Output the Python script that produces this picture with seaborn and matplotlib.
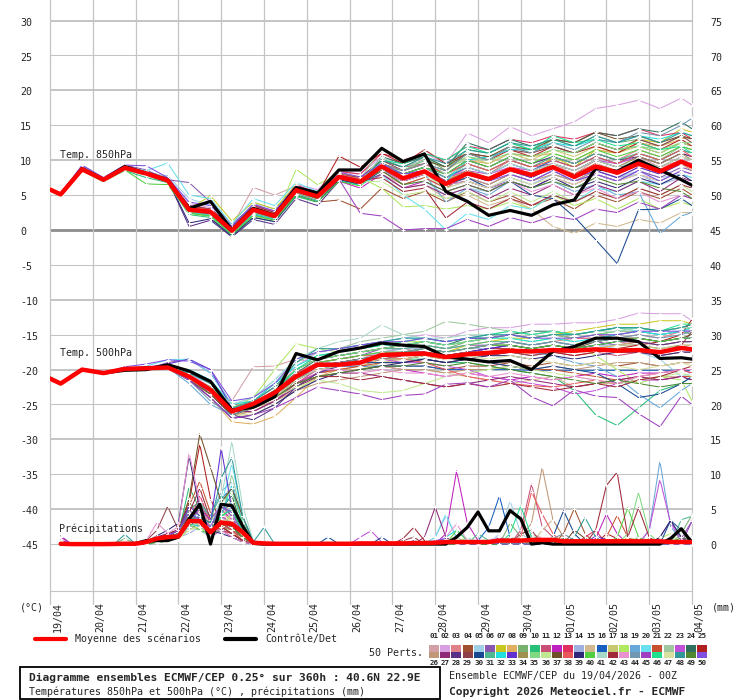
import pandas as pd
import seaborn as sns
import matplotlib.pyplot as plt
from matplotlib.lines import Line2D
from matplotlib.patches import Rectangle

sns.set_style("white")
plt.rcParams['font.family'] = ['DejaVu Sans Mono', 'DejaVu Sans']

# time steps (hours from 19/04 00Z)
HOURS_T = [0, 6] + list(range(18, 360, 12)) + [360]
HOURS_P = list(range(6, 361, 6))
DATES = ['19/04', '20/04', '21/04', '22/04', '23/04', '24/04', '25/04', '26/04',
         '27/04', '28/04', '29/04', '30/04', '01/05', '02/05', '03/05', '04/05']
PRECIP_ZERO = -45  # 0 mm sits on -45 of the left scale

MEAN_850 = [5.8, 5.1, 8.7, 7.2, 8.9, 8.1, 7.1, 2.9, 2.6, -0.1, 2.9, 2.0, 5.7, 4.8, 7.6, 6.9,
            9.1, 7.4, 8.4, 6.6, 8.1, 7.3, 8.7, 7.9, 9.0, 7.6, 9.1, 8.2, 9.5, 8.4, 9.8, 9.1]
CTRL_850 = [5.8, 5.1, 8.8, 7.2, 9.1, 8.1, 7.2, 3.1, 4.1, 0.0, 3.1, 2.1, 6.1, 5.3, 8.6, 8.6,
            11.7, 9.8, 10.9, 5.5, 4.1, 2.1, 2.8, 2.1, 3.6, 4.3, 8.8, 8.4, 10.0, 8.6, 7.2, 6.4]
MEAN_500 = [-21.3, -22.0, -20.0, -20.5, -19.9, -19.8, -19.7, -21.0, -22.9, -26.0, -24.9, -23.3,
            -21.0, -19.3, -19.3, -19.0, -17.9, -17.8, -17.7, -18.2, -17.8, -17.6, -17.3, -17.4,
            -17.2, -17.3, -17.1, -17.3, -17.2, -17.5, -16.9, -17.1]
CTRL_500 = [-21.2, -22.0, -20.0, -20.5, -20.1, -20.0, -19.3, -20.2, -21.7, -25.8, -25.4, -23.9,
            -17.7, -18.6, -17.4, -16.9, -16.2, -16.5, -16.7, -18.2, -18.5, -18.9, -18.7, -20.0,
            -17.4, -16.7, -15.5, -15.5, -16.0, -18.4, -18.3, -18.5]
MEAN_PR = [0.05, 0, 0, 0, 0, 0.02, 0.05, 0.05, 0.3, 0.8,
           1.0, 1.1, 3.3, 3.3, 1.7, 3.1, 2.9, 1.7, 0.2, 0.1,
           0.05, 0.05, 0.05, 0.05, 0.05, 0.05, 0.05, 0.05, 0.1, 0.1,
           0.1, 0.1, 0.1, 0.15, 0.15, 0.2, 0.3, 0.3, 0.3, 0.3,
           0.3, 0.5, 0.5, 0.5, 0.6, 0.6, 0.6, 0.4, 0.4, 0.4,
           0.4, 0.4, 0.4, 0.4, 0.4, 0.4, 0.4, 0.3, 0.3, 0.3]
CTRL_PR = [0, 0, 0, 0, 0, 0, 0, 0.1, 0.5, 0.5,
           0.5, 1.0, 3.6, 5.7, 0.0, 5.7, 5.5, 2.6, 0.1, 0,
           0, 0, 0, 0, 0, 0, 0, 0, 0, 0,
           0, 0, 0, 0, 0, 0, 0, 1.0, 2.4, 4.6,
           1.9, 1.9, 4.8, 3.6, 0, 0.2, 0, 0, 0, 0,
           0, 0, 0, 0, 0, 0, 0, 0.8, 2.2, 0.2]

MEMBER_COLORS = ['#d4a0a8', '#d8a0e0', '#e08088', '#a05030', '#a0d0e8', '#8858b0', '#c8c820', '#e0b060',
                 '#78b070', '#28c078', '#c85078', '#c020c0', '#e03060', '#a0b0e0', '#d0b890', '#1860c0',
                 '#c8c870', '#b0e860', '#68a8d8', '#68e0f0', '#c85030', '#a0c8a0', '#c050d8', '#307060',
                 '#b02020', '#c09878', '#902878', '#583088', '#904048', '#184890', '#50b890', '#20e0e0',
                 '#6030d0', '#a09050', '#80d880', '#c0e890', '#705028', '#e85858', '#302878', '#50d040',
                 '#a8d8c8', '#a02838', '#e890d0', '#7098b0', '#a040c0', '#20e090', '#d8e0a0', '#309898',
                 '#508830', '#8050e0']
MEMBER_IDS = ['%02d' % (i + 1) for i in range(50)]

T850_MEMBERS = [
    [5.9, 5.2, 8.7, 7.3, 9.0, 8.0, 7.3, 3.5, 3.0, 0.5, 6.1, 5.0, 6.3, 5.5, 7.0, 6.5, 8.0, 6.5, 7.5, 6.0, 8.5, 7.0, 9.0, 8.0, 9.5, 8.0, 10.0, 9.0, 10.5, 9.0, 10.0, 9.5],
    [5.7, 5.0, 8.9, 7.1, 9.2, 8.3, 7.4, 3.8, 3.2, 0.3, 3.5, 2.8, 6.5, 5.8, 8.5, 8.0, 10.5, 9.5, 11.0, 9.5, 13.9, 12.5, 14.8, 13.5, 14.5, 15.5, 17.4, 17.9, 18.6, 17.4, 18.9, 17.9],
    [5.8, 5.1, 8.5, 7.0, 8.7, 7.8, 6.8, 2.5, 2.0, -0.5, 2.0, 1.5, 5.0, 4.0, 7.5, 7.0, 9.5, 8.0, 9.0, 7.0, 9.0, 8.0, 10.0, 9.0, 10.5, 9.5, 11.0, 10.0, 11.5, 10.5, 12.0, 11.5],
    [5.9, 5.3, 9.0, 7.4, 9.1, 8.4, 7.5, 3.0, 2.5, 0.0, 3.0, 2.0, 5.5, 4.0, 4.3, 3.0, 6.0, 4.5, 5.5, 4.0, 5.5, 4.0, 5.0, 3.5, 4.5, 3.0, 5.0, 4.0, 5.5, 4.5, 6.0, 5.0],
    [5.6, 5.0, 8.6, 7.1, 8.8, 8.0, 7.8, 4.5, 3.5, 0.5, 3.8, 3.0, 6.0, 5.0, 8.0, 7.5, 9.0, 6.5, 7.0, 5.0, 6.0, 5.5, 7.5, 6.5, 8.0, 7.0, 8.5, 7.5, 8.5, 7.5, 8.0, 7.5],
    [5.9, 5.2, 9.2, 7.5, 9.3, 8.6, 7.2, 6.8, 4.0, 0.8, 3.5, 2.5, 6.2, 5.5, 8.0, 7.0, 8.5, 7.0, 8.0, 6.5, 7.5, 6.5, 8.0, 7.0, 8.5, 7.0, 8.0, 7.0, 8.5, 7.5, 9.0, 8.5],
    [5.8, 5.1, 8.7, 7.2, 8.9, 8.0, 7.0, 3.0, 4.9, 1.3, 4.0, 3.0, 6.5, 5.0, 7.5, 7.0, 9.0, 7.5, 8.5, 7.0, 8.5, 7.0, 9.0, 8.0, 10.5, 9.0, 11.5, 11.0, 13.0, 12.5, 14.5, 14.0],
    [5.7, 5.0, 8.6, 7.1, 8.8, 8.0, 7.0, 2.8, 2.4, -0.3, 2.5, 1.8, 5.4, 4.5, 7.2, 6.5, 8.5, 7.0, 8.0, 6.5, 10.0, 9.5, 11.0, 10.5, 11.0, 10.0, 11.5, 11.0, 12.5, 12.0, 13.0, 13.5],
    [5.8, 5.1, 8.8, 7.0, 8.7, 7.9, 7.0, 2.7, 2.4, -0.5, 2.6, 1.7, 5.6, 4.6, 7.8, 7.5, 10.0, 9.0, 10.5, 8.5, 11.0, 10.0, 12.0, 11.0, 13.0, 12.0, 13.5, 12.5, 13.0, 12.0, 13.5, 13.0],
    [5.7, 5.0, 8.7, 7.1, 8.5, 7.5, 6.8, 2.2, 1.8, -1.0, 1.8, 1.2, 4.8, 4.0, 7.0, 6.5, 9.5, 8.5, 10.0, 9.0, 11.5, 11.0, 12.5, 11.5, 12.0, 11.0, 12.5, 11.5, 12.0, 11.0, 12.5, 12.0],
    [5.9, 5.2, 8.8, 7.3, 9.0, 8.2, 7.2, 3.2, 2.8, 0.2, 3.2, 2.2, 6.0, 5.2, 8.2, 7.5, 10.0, 9.0, 9.5, 8.0, 9.5, 8.5, 10.0, 9.0, 9.5, 8.5, 10.0, 9.0, 9.5, 8.5, 10.0, 9.5],
    [5.8, 5.1, 8.9, 7.4, 9.2, 8.3, 7.3, 2.6, 2.2, -0.4, 2.4, 1.6, 5.2, 4.2, 7.0, 6.0, 8.0, 6.0, 7.0, 5.5, 6.5, 5.5, 7.0, 6.0, 7.5, 6.5, 8.0, 7.0, 8.0, 7.0, 8.5, 8.0],
    [5.9, 5.2, 8.8, 7.2, 8.9, 8.1, 7.1, 3.4, 3.0, 0.4, 3.6, 2.6, 6.4, 5.4, 8.4, 8.0, 11.0, 10.0, 11.0, 10.0, 12.0, 11.5, 13.0, 12.5, 13.5, 13.0, 14.0, 13.5, 14.5, 13.5, 14.0, 13.0],
    [5.6, 4.9, 8.6, 7.0, 8.8, 8.0, 7.1, 2.9, 2.5, -0.2, 2.8, 1.9, 5.6, 4.7, 7.5, 6.8, 9.0, 7.0, 8.0, 6.0, 7.0, 6.0, 7.5, 6.5, 8.0, 7.0, 8.5, 7.5, 8.0, 6.5, 7.5, 7.0],
    [5.8, 5.1, 8.7, 7.2, 8.9, 8.0, 7.0, 3.0, 2.6, 0.0, 3.0, 2.0, 5.8, 4.8, 7.4, 6.6, 8.0, 6.0, 6.5, 4.5, 5.0, 3.5, 4.5, 3.0, 0.5, -0.5, 1.0, 0.5, 1.5, 1.0, 2.5, 2.5],
    [5.7, 5.0, 8.8, 7.2, 8.9, 8.1, 7.1, 2.5, 2.0, -0.6, 2.2, 1.5, 5.0, 4.2, 7.0, 6.5, 9.0, 8.0, 9.0, 7.5, 9.0, 8.0, 9.5, 8.5, 10.0, 9.0, 10.5, 9.5, 11.0, 10.0, 11.5, 11.0],
    [5.8, 5.1, 8.6, 7.1, 8.8, 8.0, 7.0, 3.1, 2.7, 0.1, 3.1, 2.1, 5.9, 4.9, 7.7, 7.0, 9.5, 8.5, 9.5, 8.5, 10.5, 9.5, 11.0, 10.0, 11.5, 10.5, 12.0, 11.0, 12.0, 11.0, 12.5, 12.0],
    [5.7, 5.0, 8.6, 7.1, 8.8, 8.0, 7.1, 2.4, 2.0, -0.7, 2.0, 1.4, 8.7, 6.5, 8.0, 7.5, 6.0, 3.3, 3.5, 3.0, 3.5, 3.0, 4.0, 3.0, 5.0, 3.5, 4.5, 3.0, 4.5, 3.0, 4.0, 3.5],
    [5.8, 5.1, 8.8, 7.2, 8.9, 8.1, 7.1, 3.0, 2.6, -0.1, 2.9, 2.0, 5.7, 4.8, 7.6, 6.9, 9.0, 7.0, 8.0, 4.0, 6.0, 5.0, 7.0, 6.0, 7.0, 5.5, 6.5, 5.0, 5.5, -0.5, 2.0, 2.5],
    [5.9, 5.2, 8.9, 7.3, 9.0, 8.5, 9.6, 5.0, 4.5, 0.8, 4.5, 3.5, 6.8, 5.5, 8.0, 6.5, 8.0, 5.0, 3.0, 0.0, 2.4, 1.5, 3.5, 3.0, 5.0, 4.0, 6.0, 5.5, 7.0, 6.5, 8.0, 7.5],
    [5.8, 5.1, 8.7, 7.2, 8.9, 8.0, 7.0, 2.8, 2.4, -0.3, 2.7, 1.8, 5.5, 4.6, 7.4, 6.7, 8.5, 6.5, 7.5, 6.0, 8.0, 7.0, 8.5, 7.5, 9.0, 8.0, 9.5, 8.5, 10.0, 9.0, 10.5, 10.0],
    [5.7, 5.1, 8.8, 7.2, 8.9, 8.1, 7.1, 3.2, 2.8, 0.2, 3.2, 2.3, 6.0, 5.0, 7.9, 7.2, 11.8, 10.0, 10.5, 9.0, 10.0, 9.0, 10.5, 9.5, 10.5, 9.5, 11.0, 10.0, 11.0, 10.0, 12.0, 11.5],
    [5.8, 5.2, 8.8, 7.3, 9.0, 8.2, 7.2, 3.0, 2.6, 0.0, 3.0, 2.1, 5.8, 5.0, 7.8, 7.0, 9.5, 8.0, 9.0, 7.5, 8.5, 8.0, 9.0, 8.5, 9.5, 8.5, 10.0, 9.5, 10.5, 9.5, 11.0, 10.5],
    [5.8, 5.0, 8.7, 7.1, 8.8, 8.0, 7.0, 2.7, 2.3, -0.4, 2.6, 1.7, 5.5, 4.5, 7.4, 6.8, 10.5, 9.5, 10.5, 9.0, 12.5, 11.5, 13.0, 12.0, 13.0, 12.5, 14.0, 13.5, 14.5, 14.0, 15.5, 14.5],
    [5.9, 5.2, 8.9, 7.3, 9.0, 8.2, 7.2, 3.3, 2.9, 0.3, 3.3, 2.3, 6.0, 5.1, 10.6, 9.0, 11.0, 9.5, 11.5, 9.5, 11.0, 10.0, 11.5, 10.5, 12.0, 11.0, 12.0, 11.0, 12.5, 11.5, 13.0, 12.0],
    [5.7, 5.0, 8.6, 7.1, 8.7, 7.9, 7.0, 2.6, 2.2, -0.5, 2.4, 1.6, 5.2, 4.2, 7.2, 6.6, 8.5, 7.0, 8.0, 6.5, 7.5, 6.5, 8.0, 7.0, 8.0, 7.0, 8.5, 7.5, 9.0, 8.0, 9.5, 8.5],
    [5.8, 5.1, 8.7, 7.2, 8.9, 8.1, 7.0, 2.8, 2.4, -0.2, 2.8, 1.9, 5.6, 4.7, 7.5, 6.8, 8.0, 6.0, 6.5, 5.0, 6.0, 4.5, 6.0, 5.0, 6.5, 5.0, 6.5, 5.5, 7.0, 5.5, 7.5, 7.0],
    [5.7, 5.0, 8.8, 7.2, 9.0, 8.2, 7.2, 0.5, 1.4, -1.0, 1.5, 0.8, 4.5, 3.5, 7.0, 6.5, 9.0, 8.0, 9.0, 8.0, 10.0, 9.0, 10.5, 9.5, 10.5, 9.5, 11.0, 10.0, 10.5, 9.5, 11.0, 10.5],
    [5.9, 5.2, 8.7, 7.2, 8.9, 8.0, 7.0, 3.5, 3.0, 0.5, 3.5, 2.5, 6.2, 5.3, 8.0, 7.5, 10.0, 8.5, 9.5, 8.5, 11.0, 10.5, 11.5, 11.0, 12.0, 11.0, 12.5, 11.5, 13.0, 12.0, 13.5, 12.5],
    [5.8, 5.1, 8.8, 7.2, 8.9, 8.1, 7.1, 2.9, 2.5, -0.2, 2.8, 1.9, 5.6, 4.7, 7.5, 6.8, 9.0, 7.5, 8.0, 6.5, 7.5, 6.0, 7.0, 5.0, 4.5, 1.9, -1.4, -4.8, 2.9, 3.0, 4.5, 3.5],
    [5.8, 5.1, 8.7, 7.2, 8.9, 8.1, 7.1, 3.1, 2.7, 0.1, 3.0, 2.1, 5.8, 4.9, 7.7, 7.0, 9.5, 8.0, 9.0, 7.5, 9.5, 8.5, 10.0, 9.0, 10.5, 9.5, 11.0, 10.0, 11.0, 10.0, 11.5, 11.0],
    [5.7, 5.0, 8.6, 7.0, 8.7, 7.9, 6.9, 2.5, 2.1, -0.6, 2.3, 1.5, 5.1, 4.1, 7.1, 6.4, 8.5, 7.5, 8.5, 7.0, 10.0, 10.5, 11.5, 11.5, 12.5, 12.0, 13.0, 12.5, 13.5, 13.0, 14.0, 13.5],
    [5.8, 5.1, 8.9, 7.3, 9.1, 8.3, 7.2, 3.2, 2.8, 0.2, 3.2, 2.2, 6.0, 5.0, 7.9, 7.2, 9.5, 8.0, 8.5, 7.0, 8.0, 7.0, 8.5, 7.5, 9.0, 7.5, 8.5, 7.5, 9.0, 8.0, 9.5, 9.0],
    [5.8, 5.1, 8.7, 7.2, 8.9, 8.0, 7.0, 2.7, 2.3, -0.4, 2.6, 1.7, 5.4, 4.5, 7.3, 6.6, 9.0, 7.5, 8.5, 7.0, 8.5, 7.5, 9.0, 8.0, 9.5, 8.5, 10.0, 9.0, 10.5, 9.5, 11.0, 10.0],
    [5.7, 5.0, 8.7, 7.1, 8.8, 8.0, 7.0, 2.6, 2.3, -0.4, 2.5, 1.7, 5.4, 4.4, 7.3, 6.6, 9.0, 8.5, 10.0, 9.0, 10.5, 10.0, 11.0, 10.5, 11.5, 11.0, 12.5, 11.5, 12.0, 11.5, 12.5, 12.5],
    [5.8, 5.1, 8.8, 7.2, 8.9, 8.1, 7.1, 3.0, 2.6, -0.1, 2.9, 2.0, 5.7, 4.8, 7.6, 6.9, 7.0, 5.0, 5.5, 4.5, 5.5, 4.0, 5.5, 4.0, 5.5, 4.0, 5.5, 4.5, 6.0, 5.0, 6.5, 5.5],
    [5.8, 5.1, 8.8, 7.2, 8.9, 8.0, 7.0, 2.9, 2.5, -0.2, 2.8, 1.9, 5.6, 4.7, 7.5, 6.8, 10.0, 9.0, 10.0, 9.0, 11.0, 10.5, 12.0, 11.5, 13.0, 12.5, 14.0, 13.0, 13.5, 12.5, 13.5, 13.0],
    [5.9, 5.2, 8.8, 7.3, 9.0, 8.2, 7.2, 3.3, 2.9, 0.3, 3.3, 2.3, 6.0, 5.1, 8.0, 7.3, 9.5, 8.5, 9.5, 8.0, 9.5, 8.5, 10.0, 9.0, 10.0, 9.0, 10.5, 9.5, 11.0, 10.0, 11.5, 10.5],
    [5.8, 5.1, 8.7, 7.2, 8.9, 8.1, 7.1, 1.0, 1.6, -0.8, 1.8, 1.2, 5.0, 4.0, 7.2, 6.6, 8.5, 7.0, 8.0, 6.5, 7.0, 6.0, 7.0, 6.0, 7.5, 6.0, 7.0, 6.0, 7.5, 6.5, 8.0, 7.0],
    [5.7, 5.0, 8.5, 6.9, 8.6, 6.6, 6.5, 2.4, 2.0, -0.7, 2.1, 1.4, 5.0, 4.0, 7.0, 6.3, 9.5, 8.0, 9.0, 8.0, 10.0, 9.0, 10.5, 9.5, 11.0, 10.0, 11.5, 10.5, 11.5, 10.5, 12.0, 11.5],
    [5.8, 5.1, 8.7, 7.2, 8.9, 8.0, 7.0, 3.0, 2.6, 0.0, 3.0, 2.0, 5.7, 4.8, 7.6, 6.9, 10.5, 9.0, 10.0, 8.0, 9.0, 8.0, 9.5, 8.5, 9.5, 8.5, 10.0, 9.0, 10.0, 9.0, 10.5, 10.0],
    [5.9, 5.2, 8.9, 7.3, 9.0, 8.2, 7.2, 3.1, 2.7, 0.1, 3.1, 2.1, 5.9, 4.9, 7.8, 7.1, 7.5, 5.5, 6.0, 1.7, 4.0, 3.0, 4.5, 3.5, 5.0, 4.0, 5.5, 4.5, 6.0, 5.0, 6.5, 6.0],
    [5.8, 5.1, 8.8, 7.2, 9.0, 8.1, 7.1, 3.0, 2.6, -0.1, 2.9, 2.0, 5.7, 4.8, 7.6, 6.9, 8.5, 7.0, 8.0, 6.5, 7.0, 6.0, 7.0, 5.5, 6.5, 5.0, 6.0, 4.5, 5.5, 4.0, 5.0, 4.5],
    [5.7, 5.0, 8.7, 7.1, 8.8, 8.0, 7.0, 2.8, 2.4, -0.3, 2.7, 1.8, 5.5, 4.6, 7.4, 6.7, 9.5, 8.5, 9.5, 8.5, 11.0, 10.0, 12.0, 11.0, 12.5, 11.5, 13.0, 12.5, 14.0, 13.5, 15.0, 16.0],
    [5.8, 5.1, 8.7, 7.2, 8.9, 8.1, 7.1, 2.9, 2.5, -0.2, 2.8, 1.9, 5.6, 4.7, 7.3, 2.4, 2.0, 0.0, 0.2, 0.2, 1.5, 0.5, 1.8, 1.0, 2.0, 1.5, 3.0, 2.5, 4.0, 3.0, 5.0, 4.5],
    [5.8, 5.1, 8.7, 7.2, 8.9, 8.1, 7.1, 3.1, 2.7, 0.1, 3.1, 2.1, 5.8, 4.9, 7.7, 7.0, 10.0, 9.5, 11.0, 10.0, 12.0, 11.0, 12.5, 11.5, 13.5, 12.5, 13.0, 12.0, 12.5, 11.5, 12.0, 11.0],
    [5.8, 5.1, 8.8, 7.3, 8.9, 8.1, 7.1, 3.0, 2.6, 0.0, 3.0, 2.0, 5.8, 4.8, 7.6, 6.9, 9.0, 7.5, 8.0, 6.0, 7.0, 6.0, 7.5, 6.5, 7.5, 6.5, 8.0, 7.0, 8.0, 7.0, 8.5, 8.0],
    [5.7, 5.0, 8.6, 7.1, 8.8, 8.0, 7.0, 2.7, 2.3, -0.4, 2.6, 1.7, 5.5, 4.5, 7.4, 6.7, 10.0, 9.0, 10.5, 9.5, 11.5, 11.0, 12.5, 12.0, 13.0, 12.0, 13.5, 12.5, 13.5, 12.5, 14.0, 13.5],
    [5.8, 5.1, 8.7, 7.2, 8.9, 8.1, 7.1, 3.0, 2.6, 0.0, 3.0, 2.0, 5.7, 4.8, 7.6, 6.9, 8.5, 6.5, 7.0, 5.5, 6.5, 5.5, 7.0, 6.0, 7.0, 6.0, 7.5, 6.5, 7.0, 6.0, 5.5, 4.5],
    [5.9, 5.2, 9.3, 7.5, 9.3, 9.2, 7.5, 4.0, 3.5, 0.5, 3.7, 2.7, 6.3, 5.4, 8.3, 7.6, 9.5, 8.0, 8.5, 7.0, 8.0, 7.0, 8.0, 7.0, 8.5, 7.0, 8.0, 7.0, 8.5, 7.0, 8.5, 8.0],
]

T500_MEMBERS = [
    [-21.2, -21.9, -19.9, -20.4, -19.8, -19.7, -19.6, -21.0, -23.0, -24.5, -19.6, -19.5, -18.5, -19.0, -18.5, -18.0, -17.5, -17.0, -17.5, -18.0, -17.5, -17.0, -16.5, -17.0, -16.5, -17.0, -16.5, -16.0, -16.5, -17.0, -16.5, -16.5],
    [-21.3, -22.0, -19.9, -20.5, -19.9, -19.7, -19.6, -20.5, -22.5, -25.5, -24.5, -22.5, -19.5, -17.5, -17.0, -16.5, -16.0, -15.5, -15.0, -15.5, -14.5, -14.0, -14.0, -13.5, -13.5, -13.3, -13.3, -12.8, -11.9, -12.0, -12.0, -13.0],
    [-21.3, -22.0, -20.1, -20.5, -20.0, -19.9, -19.8, -21.5, -23.5, -26.5, -25.5, -24.0, -21.5, -19.5, -19.0, -18.5, -17.5, -17.5, -17.0, -17.5, -17.0, -16.5, -16.0, -16.5, -16.0, -15.5, -15.0, -15.5, -15.0, -15.5, -14.5, -14.5],
    [-21.3, -22.1, -20.0, -20.6, -20.0, -19.9, -19.8, -21.5, -23.5, -26.5, -26.0, -24.5, -22.5, -20.5, -20.0, -20.0, -19.5, -19.5, -19.5, -20.0, -19.5, -19.5, -19.0, -19.5, -19.0, -19.5, -19.0, -19.5, -19.0, -19.5, -19.0, -19.0],
    [-21.2, -21.9, -19.8, -20.4, -19.8, -19.6, -19.5, -20.5, -22.0, -25.5, -25.0, -23.0, -20.5, -19.0, -19.0, -18.5, -17.5, -17.5, -17.0, -17.5, -17.0, -16.5, -16.5, -17.0, -16.5, -17.0, -16.5, -17.0, -17.5, -18.5, -21.0, -20.5],
    [-21.4, -22.1, -20.1, -20.6, -20.1, -19.9, -19.0, -18.5, -20.5, -25.0, -25.0, -23.5, -21.0, -19.0, -18.5, -18.0, -17.0, -17.0, -16.5, -17.0, -16.5, -16.5, -16.0, -16.5, -16.0, -16.5, -16.0, -16.5, -16.0, -16.5, -16.0, -16.0],
    [-21.3, -22.0, -20.0, -20.5, -19.9, -19.8, -19.7, -21.0, -23.0, -26.0, -25.5, -23.5, -21.0, -19.5, -19.0, -18.5, -18.0, -17.5, -17.0, -17.5, -16.5, -16.0, -15.5, -15.5, -15.0, -14.5, -14.0, -13.5, -13.5, -13.0, -13.0, -13.5],
    [-21.3, -22.0, -20.0, -20.5, -20.0, -19.9, -19.8, -21.5, -24.0, -27.5, -27.8, -26.7, -24.0, -21.0, -20.0, -19.5, -18.5, -18.0, -18.0, -18.5, -18.0, -17.5, -17.0, -17.5, -17.0, -17.5, -17.0, -16.5, -16.0, -16.5, -16.0, -16.0],
    [-21.3, -22.0, -20.0, -20.4, -19.9, -19.8, -19.7, -21.0, -23.0, -26.0, -25.0, -23.0, -20.0, -18.5, -18.0, -17.5, -17.0, -16.5, -16.5, -17.0, -16.0, -15.5, -15.0, -15.5, -15.0, -15.5, -15.0, -14.5, -14.5, -15.0, -14.5, -15.0],
    [-21.3, -22.0, -20.0, -20.5, -19.9, -19.8, -19.7, -21.0, -23.0, -26.0, -25.0, -23.5, -21.5, -20.0, -19.5, -19.0, -18.5, -18.5, -18.5, -19.0, -19.0, -19.5, -20.0, -20.5, -21.0, -23.0, -26.5, -28.0, -25.5, -23.0, -22.0, -21.0],
    [-21.3, -22.0, -20.0, -20.5, -19.9, -19.8, -19.7, -21.5, -23.5, -26.5, -25.5, -24.0, -22.0, -20.0, -19.5, -19.0, -18.5, -18.5, -18.0, -18.5, -18.0, -18.0, -17.5, -18.0, -17.5, -18.0, -17.5, -18.0, -17.5, -18.0, -17.5, -17.5],
    [-21.3, -22.0, -20.0, -20.5, -19.9, -19.8, -19.7, -21.0, -22.5, -26.0, -26.0, -24.5, -22.0, -20.5, -20.0, -20.0, -19.5, -20.0, -20.5, -21.0, -20.5, -21.0, -21.5, -21.0, -21.5, -21.0, -20.5, -21.0, -20.5, -20.5, -20.0, -20.5],
    [-21.4, -22.1, -20.0, -20.6, -20.0, -19.8, -19.7, -21.0, -22.5, -25.5, -24.5, -22.5, -20.0, -18.5, -18.0, -17.5, -17.0, -16.5, -16.0, -16.5, -16.0, -15.5, -15.0, -15.5, -15.0, -15.5, -15.5, -15.0, -14.5, -15.0, -14.5, -14.0],
    [-21.3, -22.0, -20.0, -20.5, -19.9, -19.8, -19.7, -20.5, -22.0, -25.5, -25.0, -23.0, -20.5, -19.0, -18.5, -18.0, -17.5, -17.0, -17.0, -17.5, -17.0, -17.0, -16.5, -17.0, -16.5, -17.0, -16.5, -16.5, -16.5, -17.0, -16.5, -17.0],
    [-21.3, -22.0, -20.0, -20.5, -20.0, -19.9, -19.8, -21.5, -23.5, -26.5, -26.0, -24.5, -22.5, -20.5, -20.0, -20.0, -19.5, -20.0, -20.0, -20.5, -21.0, -21.5, -22.0, -21.5, -21.0, -22.5, -22.0, -22.0, -21.5, -21.0, -21.0, -21.5],
    [-21.3, -22.0, -20.0, -20.5, -19.9, -19.8, -19.7, -21.0, -23.0, -26.0, -25.0, -23.0, -20.5, -19.5, -19.5, -19.5, -19.5, -19.5, -19.5, -20.0, -20.0, -20.0, -20.0, -20.1, -20.1, -20.1, -20.1, -20.1, -20.1, -20.1, -20.1, -20.1],
    [-21.3, -22.0, -20.0, -20.5, -19.9, -19.8, -19.7, -21.0, -23.0, -26.5, -26.5, -25.0, -23.0, -21.0, -20.5, -20.0, -19.0, -18.5, -18.0, -18.5, -18.0, -17.5, -17.0, -17.5, -17.0, -17.5, -17.0, -16.5, -16.5, -17.0, -16.5, -16.5],
    [-21.3, -22.0, -20.0, -20.5, -19.9, -19.8, -19.7, -21.0, -22.5, -25.5, -24.0, -20.0, -16.3, -17.0, -17.5, -17.0, -16.5, -16.0, -16.0, -16.5, -16.0, -15.5, -15.5, -16.0, -15.5, -16.0, -18.0, -20.0, -22.0, -21.0, -21.5, -24.5],
    [-21.3, -22.0, -20.0, -20.5, -19.9, -19.8, -19.7, -22.0, -25.0, -26.5, -25.5, -23.5, -21.0, -19.5, -19.0, -18.5, -18.0, -18.0, -17.5, -18.0, -17.5, -17.5, -17.0, -17.5, -18.0, -19.0, -19.5, -21.0, -23.5, -25.5, -23.0, -22.0],
    [-21.2, -21.9, -19.9, -20.4, -19.8, -19.5, -18.6, -18.5, -20.5, -25.0, -24.0, -21.5, -18.5, -17.5, -17.0, -16.5, -16.0, -15.5, -15.5, -16.0, -15.5, -15.5, -15.0, -15.5, -15.0, -15.0, -14.5, -14.0, -14.5, -15.0, -14.5, -14.5],
    [-21.3, -22.0, -20.0, -20.5, -19.9, -19.8, -19.7, -21.0, -23.0, -26.0, -25.5, -24.0, -22.0, -20.5, -20.0, -19.5, -19.0, -19.0, -18.5, -19.0, -18.5, -19.0, -19.5, -20.0, -20.0, -20.5, -21.0, -21.5, -21.0, -21.5, -21.0, -21.0],
    [-21.3, -22.0, -20.0, -20.5, -19.9, -19.8, -19.7, -20.5, -22.0, -25.0, -24.5, -22.0, -19.0, -17.5, -17.0, -16.0, -15.5, -15.0, -14.5, -13.1, -13.5, -14.0, -14.5, -15.0, -14.5, -15.0, -14.5, -14.0, -14.0, -14.5, -14.0, -14.5],
    [-21.3, -22.0, -20.0, -20.5, -19.9, -19.8, -19.7, -21.0, -23.0, -26.0, -25.5, -24.0, -22.0, -20.5, -19.5, -19.0, -18.5, -19.0, -19.0, -19.5, -20.0, -21.0, -21.5, -22.0, -22.5, -23.5, -23.0, -22.0, -21.5, -21.5, -21.0, -21.5],
    [-21.3, -22.0, -20.0, -20.5, -19.9, -19.8, -19.7, -21.0, -23.0, -26.0, -25.0, -23.5, -20.5, -18.5, -18.0, -17.5, -17.0, -16.5, -16.0, -16.5, -15.5, -15.5, -15.0, -14.5, -14.5, -15.0, -14.5, -14.0, -14.0, -14.5, -14.0, -13.5],
    [-21.3, -22.0, -20.0, -20.5, -19.9, -19.8, -19.7, -21.0, -23.0, -26.0, -25.0, -23.0, -21.0, -19.5, -19.0, -18.5, -18.0, -17.5, -17.5, -18.0, -17.5, -17.0, -17.0, -17.5, -17.5, -18.0, -17.5, -17.0, -16.5, -16.0, -15.0, -12.8],
    [-21.3, -22.0, -20.0, -20.5, -19.9, -19.8, -19.7, -21.5, -23.5, -26.5, -25.5, -24.5, -23.0, -22.0, -21.5, -21.0, -20.5, -20.0, -20.0, -20.5, -20.0, -20.0, -19.5, -20.0, -19.5, -20.0, -19.5, -19.0, -19.0, -19.5, -19.0, -19.0],
    [-21.3, -22.0, -20.0, -20.5, -19.9, -19.8, -19.7, -21.0, -23.0, -26.0, -26.0, -24.5, -22.5, -21.0, -20.5, -20.5, -21.0, -21.5, -22.0, -22.5, -22.0, -21.5, -21.0, -21.5, -22.0, -22.5, -22.0, -21.5, -21.0, -21.5, -21.0, -21.5],
    [-21.3, -22.0, -20.0, -20.5, -19.9, -19.8, -19.7, -21.0, -23.5, -26.5, -27.2, -25.5, -22.5, -20.5, -19.5, -19.0, -18.5, -18.0, -17.5, -18.0, -17.5, -17.0, -16.5, -17.0, -16.5, -17.0, -16.5, -16.0, -16.0, -16.5, -16.0, -16.0],
    [-21.3, -22.0, -20.0, -20.5, -19.9, -19.8, -19.7, -21.0, -23.0, -26.0, -25.0, -23.0, -21.0, -19.5, -19.0, -18.5, -18.5, -18.5, -18.0, -18.5, -18.0, -18.0, -17.5, -18.0, -17.5, -17.5, -17.0, -17.0, -17.0, -17.5, -16.5, -14.5],
    [-21.3, -22.0, -20.0, -20.5, -19.9, -19.8, -19.7, -21.0, -23.0, -26.0, -25.5, -24.0, -21.5, -20.0, -19.5, -19.0, -19.0, -19.0, -18.5, -19.0, -18.5, -19.0, -19.5, -20.0, -19.5, -20.0, -20.5, -22.0, -24.0, -23.5, -22.0, -21.0],
    [-21.3, -22.0, -20.0, -20.5, -19.9, -19.8, -19.7, -21.0, -23.0, -26.0, -25.0, -23.0, -20.0, -18.5, -18.0, -17.5, -17.0, -17.0, -16.5, -17.0, -16.5, -16.0, -16.0, -16.5, -16.0, -16.5, -16.0, -15.5, -15.5, -16.0, -15.5, -15.5],
    [-21.3, -22.0, -20.0, -20.5, -19.9, -19.8, -19.7, -20.0, -21.5, -25.0, -24.5, -22.0, -19.5, -18.0, -17.5, -17.0, -16.5, -16.5, -16.0, -16.5, -16.0, -15.5, -15.5, -16.0, -15.5, -16.0, -15.5, -15.0, -14.5, -15.0, -14.5, -14.0],
    [-21.3, -22.0, -20.0, -20.5, -19.9, -19.7, -19.2, -18.5, -20.0, -25.5, -25.5, -23.5, -21.0, -19.5, -19.0, -18.5, -18.0, -17.5, -17.5, -18.0, -17.5, -17.0, -16.5, -17.0, -16.5, -17.0, -16.5, -16.0, -15.5, -16.0, -15.5, -15.5],
    [-21.3, -22.0, -20.0, -20.5, -19.9, -19.8, -19.7, -21.0, -23.0, -26.0, -25.5, -23.5, -21.0, -19.5, -19.0, -18.5, -18.0, -18.0, -17.5, -18.0, -17.5, -17.5, -17.0, -17.5, -17.0, -17.5, -17.0, -17.0, -17.0, -17.5, -17.0, -17.0],
    [-21.3, -22.0, -20.0, -20.5, -19.9, -19.8, -19.7, -21.0, -22.5, -25.5, -24.5, -22.5, -20.0, -18.5, -18.0, -17.5, -17.0, -16.5, -16.0, -16.5, -16.0, -15.5, -15.0, -15.5, -15.0, -15.5, -15.0, -14.5, -14.0, -14.5, -14.0, -14.0],
    [-21.3, -22.0, -20.0, -20.5, -19.9, -19.8, -19.7, -21.5, -23.5, -26.0, -25.5, -24.0, -22.5, -21.5, -22.0, -23.0, -23.3, -23.0, -22.0, -21.0, -20.5, -20.0, -19.5, -20.0, -20.5, -21.0, -21.5, -22.0, -21.5, -21.0, -20.5, -21.0],
    [-21.3, -22.0, -20.0, -20.5, -19.9, -19.8, -19.7, -21.5, -23.5, -26.5, -25.5, -24.0, -21.5, -19.5, -19.0, -18.5, -18.0, -17.5, -17.0, -17.5, -17.0, -16.5, -16.5, -17.0, -16.5, -17.0, -16.0, -15.5, -15.5, -16.0, -15.5, -15.0],
    [-21.3, -22.0, -20.0, -20.5, -19.9, -19.8, -19.7, -21.0, -23.0, -26.0, -25.0, -23.0, -20.5, -19.0, -18.5, -18.0, -18.0, -18.5, -19.0, -20.0, -21.0, -21.5, -22.0, -22.3, -22.5, -22.0, -21.5, -22.0, -21.0, -20.5, -20.0, -20.5],
    [-21.3, -22.0, -20.0, -20.5, -19.9, -19.8, -19.7, -21.5, -24.0, -27.0, -26.5, -25.0, -23.0, -21.5, -20.5, -20.0, -19.5, -19.0, -18.5, -19.0, -18.5, -18.0, -18.0, -18.5, -18.0, -18.5, -18.0, -17.5, -17.5, -18.0, -17.5, -17.5],
    [-21.3, -22.0, -20.0, -20.5, -19.9, -19.8, -19.7, -21.0, -23.0, -26.0, -25.0, -23.0, -21.0, -19.0, -18.5, -18.0, -17.5, -17.5, -17.0, -17.5, -17.0, -16.5, -16.5, -17.0, -16.5, -17.0, -16.5, -16.0, -15.5, -16.0, -15.5, -15.5],
    [-21.3, -22.0, -20.0, -20.5, -19.9, -19.8, -19.7, -20.5, -22.0, -25.0, -24.0, -21.5, -18.5, -17.0, -16.0, -15.5, -13.6, -15.0, -15.5, -15.5, -15.0, -15.0, -14.5, -15.0, -14.5, -15.0, -14.5, -14.5, -14.0, -14.5, -14.0, -14.0],
    [-21.3, -22.0, -20.0, -20.5, -19.9, -19.8, -19.7, -21.0, -23.0, -26.0, -25.5, -24.0, -22.0, -21.0, -21.0, -21.5, -21.0, -21.5, -22.0, -22.5, -22.0, -22.5, -22.0, -22.5, -23.0, -22.5, -22.0, -22.5, -21.5, -21.0, -20.0, -19.5],
    [-21.3, -22.0, -20.0, -20.5, -19.9, -19.8, -19.7, -21.0, -23.0, -26.0, -25.0, -23.5, -21.0, -20.0, -20.0, -20.5, -20.0, -20.5, -20.5, -21.0, -20.5, -21.0, -20.5, -21.0, -21.5, -21.0, -21.5, -22.0, -21.0, -20.5, -20.0, -20.0],
    [-21.3, -22.0, -20.0, -20.5, -19.9, -19.8, -19.7, -21.5, -24.5, -26.5, -25.5, -24.0, -21.5, -19.5, -19.0, -18.5, -18.0, -17.5, -17.0, -17.5, -17.0, -16.5, -16.0, -16.5, -16.0, -16.5, -16.0, -15.5, -15.0, -15.5, -15.0, -14.5],
    [-21.3, -22.0, -20.0, -20.5, -19.9, -19.8, -19.7, -21.5, -24.0, -27.0, -26.5, -25.5, -24.0, -22.5, -23.0, -23.5, -24.3, -23.7, -23.5, -22.1, -21.9, -22.5, -21.5, -23.9, -25.2, -22.9, -23.8, -24.0, -26.3, -28.2, -23.8, -25.0],
    [-21.3, -22.0, -20.0, -20.5, -19.9, -19.8, -19.7, -21.0, -23.0, -26.0, -25.0, -23.0, -20.0, -18.0, -17.5, -17.0, -16.5, -16.0, -15.5, -16.0, -15.5, -15.0, -14.5, -15.0, -14.5, -15.0, -14.5, -14.0, -14.0, -14.5, -13.5, -13.5],
    [-21.3, -22.0, -20.0, -20.5, -19.9, -19.8, -19.7, -21.0, -23.0, -26.0, -25.5, -24.0, -21.5, -20.0, -19.5, -19.0, -18.5, -18.5, -18.0, -18.5, -18.0, -18.5, -18.0, -18.5, -19.0, -19.5, -19.0, -19.5, -20.0, -19.5, -19.0, -19.5],
    [-21.3, -22.0, -20.0, -20.5, -19.9, -19.8, -19.7, -20.5, -22.0, -25.5, -24.5, -22.5, -19.0, -17.0, -17.0, -16.5, -16.0, -15.5, -15.5, -16.0, -15.5, -15.0, -15.0, -15.5, -15.0, -15.0, -14.5, -14.0, -14.0, -14.5, -14.0, -13.5],
    [-21.3, -22.0, -20.0, -20.5, -19.9, -19.8, -19.7, -21.0, -23.0, -26.0, -25.5, -24.0, -22.0, -21.0, -20.5, -20.0, -19.5, -19.5, -19.0, -19.5, -19.0, -19.5, -20.0, -20.5, -21.0, -21.5, -22.0, -21.5, -22.0, -22.5, -22.0, -22.0],
    [-21.3, -22.0, -20.0, -20.5, -19.6, -19.2, -18.6, -18.8, -20.0, -24.5, -24.0, -22.0, -18.5, -17.5, -17.0, -16.5, -16.0, -16.0, -15.5, -16.0, -15.5, -15.5, -15.0, -15.5, -15.5, -15.5, -15.0, -15.0, -14.5, -14.5, -14.5, -14.5],
]

# main rain event 54h..114h, one row per member (mm / 6h)
PR_EVENT_HOURS = [54, 60, 66, 72, 78, 84, 90, 96, 102, 108, 114]
PR_EVENT = [
    [0, 0.5, 1.0, 1.5, 3.0, 2.0, 1.0, 2.5, 2.0, 1.0, 0], [0, 0.3, 0.8, 1.0, 2.0, 4.0, 2.0, 3.0, 5.0, 2.0, 0.2],
    [0.2, 0.5, 1.0, 0.8, 4.0, 3.0, 1.5, 2.0, 1.5, 0.5, 0], [0, 0.2, 0.5, 1.0, 3.0, 6.0, 3.0, 4.0, 3.0, 1.5, 0.2],
    [0, 0.4, 1.0, 1.2, 2.5, 2.0, 1.0, 4.5, 6.0, 2.5, 0.3], [0.3, 1.0, 1.5, 2.0, 5.0, 3.0, 1.0, 2.0, 3.0, 1.0, 0],
    [0, 0.2, 0.5, 1.0, 3.5, 5.0, 2.5, 3.0, 2.0, 1.0, 0], [0, 0.3, 0.6, 1.0, 2.0, 3.5, 4.0, 5.0, 3.0, 1.0, 0.1],
    [0.1, 0.5, 1.0, 1.5, 6.0, 4.0, 1.5, 2.0, 1.5, 0.5, 0], [0, 0.2, 0.8, 1.5, 8.2, 5.0, 2.0, 6.0, 4.0, 1.0, 0],
    [0, 0.3, 1.0, 1.0, 2.5, 3.0, 2.0, 3.0, 2.5, 1.0, 0], [0.2, 0.6, 1.2, 2.0, 4.0, 2.5, 1.5, 5.0, 3.5, 1.5, 0.2],
    [0, 0.5, 1.0, 1.0, 3.0, 7.0, 3.0, 2.0, 1.5, 0.5, 0], [0, 0.2, 0.6, 1.0, 1.5, 2.5, 1.5, 3.5, 5.5, 2.0, 0],
    [0, 0.2, 0.5, 0.8, 2.0, 3.0, 3.5, 4.0, 3.0, 1.0, 0], [0, 0.3, 1.0, 1.5, 4.5, 3.0, 1.5, 6.5, 8.0, 3.0, 0.3],
    [0, 0.4, 0.8, 1.0, 3.0, 4.0, 2.0, 3.5, 6.5, 2.0, 0], [0, 0.3, 0.7, 1.2, 3.5, 2.5, 1.0, 2.5, 4.5, 1.5, 0],
    [0, 0.2, 0.5, 1.0, 2.0, 5.5, 4.0, 7.5, 9.0, 3.0, 0.2], [0, 0.3, 0.9, 1.5, 4.0, 3.0, 2.0, 5.5, 11.5, 4.0, 0.5],
    [0.1, 0.5, 1.0, 1.5, 5.5, 9.0, 4.5, 3.0, 2.0, 0.5, 0], [0, 0.2, 0.6, 1.0, 2.5, 2.0, 1.5, 3.5, 10.0, 3.5, 0.3],
    [0, 0.4, 1.0, 1.5, 3.5, 3.0, 2.0, 4.0, 3.0, 1.0, 0], [0, 0.3, 0.8, 1.0, 3.0, 3.5, 2.5, 5.0, 7.0, 2.0, 0],
    [0.2, 0.8, 1.5, 2.0, 6.0, 14.3, 6.5, 3.0, 2.0, 1.0, 0], [0, 0.3, 0.8, 1.2, 4.0, 4.5, 3.0, 2.5, 1.5, 0.5, 0],
    [0.3, 1.0, 1.5, 2.0, 5.0, 6.0, 2.0, 2.0, 1.0, 0.3, 0], [0, 0.5, 1.0, 1.5, 3.0, 2.5, 2.0, 3.0, 2.5, 1.0, 0],
    [0.5, 2.0, 5.4, 2.0, 4.0, 3.0, 1.5, 2.5, 1.5, 0.5, 0], [0, 0.2, 0.5, 1.0, 2.5, 4.0, 2.5, 3.0, 2.0, 1.0, 0],
    [0, 0.3, 1.0, 1.5, 5.0, 6.0, 4.0, 7.0, 6.0, 2.0, 0.2], [0, 0.2, 0.6, 1.0, 3.0, 2.5, 2.0, 4.0, 8.5, 3.0, 0.2],
    [0.2, 0.6, 1.2, 2.0, 5.5, 4.0, 3.0, 13.7, 5.0, 1.5, 0], [0, 0.3, 0.8, 1.0, 3.0, 3.5, 2.0, 2.5, 2.0, 1.0, 0],
    [0, 0.2, 0.6, 1.0, 2.5, 3.0, 2.5, 6.0, 7.5, 3.0, 0.2], [0, 0.3, 0.6, 1.0, 2.0, 2.5, 2.0, 3.0, 4.0, 1.5, 0],
    [0.1, 0.5, 1.0, 2.0, 6.5, 15.8, 11.0, 6.0, 8.0, 4.0, 0.3], [0, 0.4, 1.0, 1.5, 4.0, 3.5, 2.5, 3.0, 2.0, 0.5, 0],
    [0.3, 1.2, 2.0, 3.0, 12.6, 5.0, 2.0, 1.5, 1.0, 0.3, 0], [0, 0.3, 0.8, 1.0, 3.0, 2.0, 1.5, 4.0, 5.0, 1.5, 0],
    [0, 0.2, 0.5, 1.0, 2.5, 3.0, 2.5, 6.5, 14.7, 5.5, 0.5], [0.2, 0.6, 1.5, 2.0, 4.5, 8.0, 3.5, 2.5, 1.5, 0.5, 0],
    [0.5, 3.1, 1.5, 2.5, 13.1, 6.0, 2.0, 2.0, 1.0, 0.3, 0], [0, 0.3, 0.7, 1.0, 3.0, 4.0, 3.0, 4.5, 6.0, 2.0, 0.2],
    [0, 0.4, 1.0, 1.5, 3.5, 5.0, 3.5, 5.5, 4.0, 1.0, 0], [0, 0.3, 0.8, 1.2, 4.0, 3.0, 2.0, 4.0, 5.0, 2.0, 0],
    [0, 0.2, 0.5, 0.8, 2.0, 2.5, 2.0, 3.0, 3.5, 1.0, 0], [0, 0.3, 1.0, 1.5, 3.5, 4.0, 3.0, 9.5, 12.4, 4.0, 0.3],
    [0, 0.3, 0.8, 1.0, 3.0, 3.5, 2.0, 3.0, 2.5, 1.0, 0], [0.2, 0.6, 1.2, 2.0, 4.5, 3.5, 2.5, 5.5, 4.5, 1.5, 0],
]
# other showers, hour: mm
PR_EXTRA = [
    {228: 0.5, 300: 0.8, 306: 0.4}, {6: 0.2, 246: 0.6, 252: 1.0, 336: 0.5},
    {216: 0.4, 270: 1.5, 276: 0.8}, {288: 1.5, 294: 5.1, 300: 1.5, 348: 0.6},
    {234: 1.0, 252: 1.5, 258: 6.2, 264: 1.5, 270: 0.5}, {6: 1.2, 204: 0.5, 342: 1.0, 348: 3.3, 354: 0.8, 360: 3.3},
    {264: 0.6, 318: 0.8}, {282: 1.0, 288: 0.6},
    {42: 0.8, 234: 0.5, 258: 3.0, 264: 1.0, 354: 1.5, 360: 4.2}, {270: 1.2, 276: 0.5, 330: 1.0},
    {264: 2.0, 270: 8.6, 276: 2.5, 282: 1.0}, {6: 1.0, 222: 1.5, 228: 10.5, 234: 3.0, 240: 0.5, 306: 0.8, 312: 4.3, 318: 1.5},
    {300: 1.0, 306: 2.0}, {216: 1.0, 222: 4.0, 228: 1.0},
    {276: 2.0, 282: 3.5, 288: 1.0}, {6: 0.3, 240: 0.5, 246: 2.4, 252: 6.9, 258: 1.0},
    {324: 1.0, 330: 0.5}, {210: 0.5, 264: 1.0, 342: 0.8, 348: 1.5},
    {336: 2.0, 342: 11.9, 348: 2.5, 354: 0.5}, {216: 1.0, 222: 4.3, 228: 0.8},
    {312: 1.0, 318: 4.1, 324: 1.0}, {252: 0.8, 330: 1.0, 336: 0.5},
    {174: 1.0, 180: 1.9, 186: 0.3, 336: 2.0, 342: 9.3, 348: 3.0, 354: 0.5}, {288: 0.8, 360: 1.0},
    {312: 1.5, 318: 0.8}, {264: 1.0, 270: 3.0, 276: 11.0, 282: 3.5, 288: 1.0},
    {6: 0.6, 210: 1.0, 216: 5.3, 222: 1.0}, {240: 0.4, 300: 0.6},
    {198: 0.5, 204: 1.0, 264: 1.5, 270: 2.0}, {156: 1.0, 186: 1.0, 282: 1.0, 288: 4.8, 294: 1.5, 348: 3.4, 354: 2.0, 360: 0.5},
    {240: 1.5, 246: 0.5, 354: 3.5, 360: 4.0}, {222: 1.0, 228: 2.0, 234: 0.6},
    {306: 1.2, 312: 0.6}, {258: 1.0, 264: 0.5, 336: 0.8},
    {324: 1.5, 330: 7.4, 336: 1.5}, {228: 0.8, 234: 0.6, 318: 0.5},
    {276: 1.0, 294: 2.0, 300: 0.8}, {192: 0.3, 264: 1.0, 270: 7.5, 276: 4.3, 282: 1.5},
    {342: 1.0, 348: 3.4, 354: 1.0}, {228: 2.0, 234: 0.5, 318: 1.0, 324: 5.2, 330: 1.0},
    {234: 0.8, 240: 0.4, 300: 0.5}, {198: 0.8, 204: 2.4, 210: 0.5, 306: 2.0, 312: 8.4, 318: 10.3, 324: 1.0, 330: 5.2, 336: 1.0},
    {6: 0.4, 222: 1.0, 228: 2.9, 234: 0.5, 270: 1.0}, {282: 0.8, 288: 1.5, 294: 0.5},
    {174: 0.3, 252: 1.0, 258: 0.4, 360: 3.3}, {258: 1.5, 264: 5.5, 270: 1.0},
    {246: 0.5, 252: 0.3}, {42: 1.4, 120: 2.4, 294: 1.0, 300: 3.8, 306: 1.0},
    {312: 0.6, 354: 1.0, 360: 0.5}, {216: 0.5, 222: 0.8, 246: 0.4},
]

# long table of every member line
rows = []
for k, mid in enumerate(MEMBER_IDS):
    for h, v in zip(HOURS_T, T850_MEMBERS[k]):
        rows.append((mid, 't850', h, v))
    for h, v in zip(HOURS_T, T500_MEMBERS[k]):
        rows.append((mid, 't500', h, v))
    pr = dict(zip(PR_EVENT_HOURS, PR_EVENT[k]))
    pr.update(PR_EXTRA[k])
    for h in HOURS_P:
        rows.append((mid, 'precip', h, pr.get(h, 0.0) + PRECIP_ZERO))
members = pd.DataFrame(rows, columns=['member', 'var', 'hour', 'value'])

W, H = 740, 700
fig = plt.figure(figsize=(W / 100, H / 100), dpi=100)
# plot area: x 50..692 px, y 0..604 px ; 6.98 px per degree, 0 degC at y=230
ax = fig.add_axes([50 / W, 1 - 604 / H, 642 / W, 604 / H])
ax.set_axis_off()

grid = '#c4c4c4'
for v in range(-45, 31, 5):
    if v == 0:
        ax.axhline(v, color='#8c8c8c', lw=2.0, zorder=1)
    else:
        ax.axhline(v, color=grid, lw=1.4 if v % 10 == 0 else 0.75, zorder=1)
ax.axhline((230 - 591) / 6.98, color=grid, lw=0.8, zorder=1)
for d in range(len(DATES)):
    ax.axvline(d * 24, color=grid, lw=0.9, zorder=1, clip_on=False)

sns.lineplot(data=members, x='hour', y='value', hue='member', units='var', estimator=None,
             palette=dict(zip(MEMBER_IDS, MEMBER_COLORS)), hue_order=MEMBER_IDS, legend=False,
             lw=0.75, marker='+', markersize=3.4, markeredgewidth=0.7, ax=ax, zorder=2)

for y_ctrl, y_mean, xs in [(CTRL_850, MEAN_850, HOURS_T), (CTRL_500, MEAN_500, HOURS_T),
                           ([p + PRECIP_ZERO for p in CTRL_PR], [p + PRECIP_ZERO for p in MEAN_PR], HOURS_P)]:
    sns.lineplot(x=xs, y=y_ctrl, color='black', lw=2.3, ax=ax, zorder=3)
    sns.lineplot(x=xs, y=y_mean, color='#ff0000', lw=3.2, ax=ax, zorder=4)

ax.set_xlim(0, 360)
ax.set_ylim((230 - 604) / 6.98, 230 / 6.98)

fs = 7.2
ytr = ax.get_yaxis_transform()
for v in range(-45, 31, 5):
    ax.text(-30 / 642, v - 0.3, str(v), transform=ytr, ha='left', va='center', fontsize=fs)
    ax.text(660 / 642, v - 0.3, str(v + 45), transform=ytr, ha='left', va='center', fontsize=fs)

xtr = ax.get_xaxis_transform()
for i, d in enumerate(DATES):
    ax.text(i * 24 + 1.6, 2 / 604, d, transform=xtr, rotation=90, ha='left', va='top',
            fontsize=fs, clip_on=False)

ax.text(5.6, 10.3, 'Temp. 850hPa', fontsize=fs, va='baseline', zorder=5)
ax.text(5.6, -17.98, 'Temp. 500hPa', fontsize=fs, va='baseline', zorder=5)
ax.text(5.3, -43.2, 'Précipitations', fontsize=fs, va='baseline', zorder=5)


def ftext(x, y, s, **kw):
    fig.text(x / W, 1 - y / H, s, **kw)


ftext(20, 607, '(°C)', fontsize=fs, va='center')
ftext(712, 607, '(mm)', fontsize=fs, va='center')

fig.add_artist(Line2D([35 / W, 66 / W], [1 - 639 / H] * 2, color='#ff0000', lw=3.0))
ftext(75, 639, 'Moyenne des scénarios', fontsize=fs, va='center')
fig.add_artist(Line2D([225 / W, 256 / W], [1 - 639 / H] * 2, color='black', lw=3.0))
ftext(265, 639, 'Contrôle/Det', fontsize=fs, va='center')
ftext(423, 653, '50 Perts.', fontsize=fs, va='center', ha='right')

for i in range(25):
    x0 = 429 + 11.17 * i
    fig.add_artist(Rectangle((x0 / W, 1 - 651.5 / H), 10 / W, 6.5 / H, transform=fig.transFigure,
                             color=MEMBER_COLORS[i], lw=0))
    fig.add_artist(Rectangle((x0 / W, 1 - 658 / H), 10 / W, 6.5 / H, transform=fig.transFigure,
                             color=MEMBER_COLORS[25 + i], lw=0))
    ftext(x0 + 5, 636, MEMBER_IDS[i], fontsize=5.4, ha='center', va='center', fontweight='bold')
    ftext(x0 + 5, 663, MEMBER_IDS[25 + i], fontsize=5.4, ha='center', va='center', fontweight='bold')

fig.add_artist(Rectangle((20 / W, 1 - 699 / H), 420 / W, 32 / H, transform=fig.transFigure,
                         fill=False, edgecolor='black', lw=1.3))
ftext(29, 677.5, 'Diagramme ensembles ECMWF/CEP 0.25° sur 360h : 40.6N 22.9E',
      fontsize=8.1, fontweight='bold', va='center')
ftext(29, 691.5, 'Températures 850hPa et 500hPa (°C) , précipitations (mm)', fontsize=fs, va='center')
ftext(449, 676, 'Ensemble ECMWF/CEP du 19/04/2026 - 00Z', fontsize=fs, va='center')
ftext(449, 691.5, 'Copyright 2026 Meteociel.fr - ECMWF', fontsize=8.1, fontweight='bold', va='center')

fig.savefig('out.png', dpi=100, facecolor='white')
